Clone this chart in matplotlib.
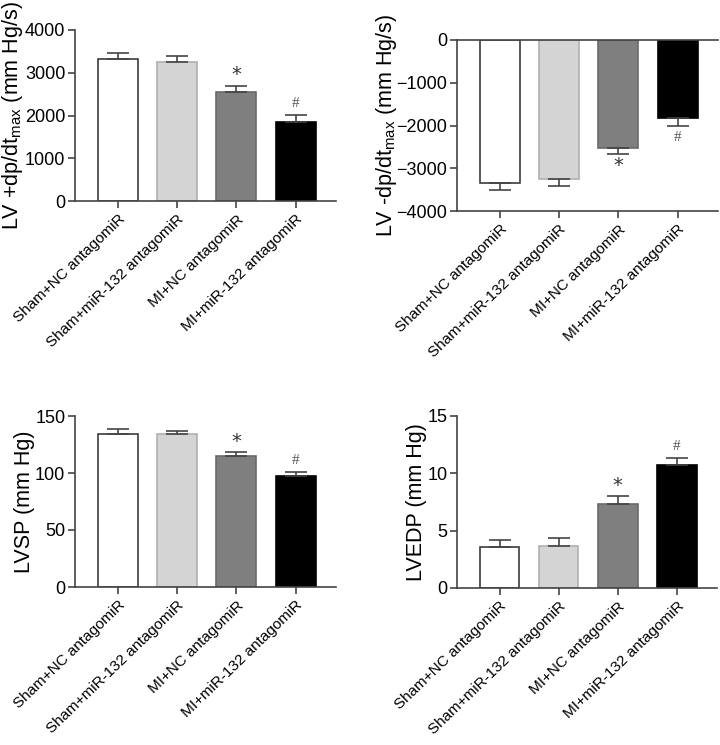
import matplotlib.pyplot as plt
import numpy as np

plt.rcParams['font.family'] = ['Liberation Sans', 'DejaVu Sans']

groups = ["Sham+NC antagomiR", "Sham+miR-132 antagomiR",
          "MI+NC antagomiR", "MI+miR-132 antagomiR"]

dpdt_pos = [3320, 3260, 2540, 1840]
dpdt_pos_err = [150, 135, 155, 170]
dpdt_neg = [-3350, -3250, -2530, -1830]
dpdt_neg_err = [160, 160, 135, 180]
lvsp = [134.2, 134.3, 115.3, 97.0]
lvsp_err = [4.2, 2.6, 2.7, 4.0]
lvedp = [3.58, 3.67, 7.34, 10.75]
lvedp_err = [0.62, 0.70, 0.67, 0.58]

fills = ["white", "#d4d4d4", "#7f7f7f", "black"]
edges = ["#3c3c3c", "#b0b0b0", "#6a6a6a", "black"]
line_col = "#444444"

fig = plt.figure(figsize=(7.2, 7.45), dpi=100)
W, H = 720, 745


def make_ax(l, r, t, b):
    return fig.add_axes([l / W, 1 - b / H, (r - l) / W, (b - t) / H])


def panel(ax, vals, errs, ylim, yticks, ylabel, label_x, marks, negative=False):
    x = np.arange(len(vals))
    e = np.array(errs)
    z = np.zeros_like(e)
    yerr = [e, z] if negative else [z, e]
    ax.bar(x, vals, width=0.67, color=fills, edgecolor=edges, linewidth=1.2,
           yerr=yerr, error_kw=dict(ecolor=line_col, elinewidth=1.2,
                                    capsize=8, capthick=1.2), zorder=2)
    ax.set_xlim(-0.72, 3.68)
    ax.set_ylim(*ylim)
    ax.set_yticks(yticks)
    ax.set_xticks(x)
    ax.set_xticklabels(groups, rotation=44, ha="right", rotation_mode="anchor",
                       fontsize=11)
    ax.tick_params(axis="y", labelsize=13, length=5, width=1.2, color=line_col,
                   pad=2)
    ax.tick_params(axis="x", length=5, width=1.2, color=line_col, pad=3)
    ax.spines["right"].set_visible(False)
    ax.spines["top"].set_visible(negative)
    for s in ["left", "bottom", "top"]:
        ax.spines[s].set_color(line_col)
        ax.spines[s].set_linewidth(1.2)
    ax.set_ylabel(ylabel, fontsize=15.5)
    ax.yaxis.set_label_coords(label_x, 0.5)
    for i, sym in marks:
        end = vals[i] - errs[i] if negative else vals[i] + errs[i]
        off = -8 if negative else 8
        if sym == "*":
            ax.annotate("*", xy=(i, end), xytext=(0, off), textcoords="offset points",
                        ha="center", va="center", fontsize=14, color="#333333",
                        family="DejaVu Sans")
        else:
            ax.annotate("#", xy=(i, end), xytext=(0, off), textcoords="offset points",
                        ha="center", va="center", fontsize=11, color="#555555",
                        family="Liberation Serif")


ax1 = make_ax(75, 336, 30, 201)
panel(ax1, dpdt_pos, dpdt_pos_err, (0, 4000), [0, 1000, 2000, 3000, 4000],
      r"LV +dp/dt$_{\mathregular{max}}$ (mm Hg/s)", -0.192, [(2, "*"), (3, "#")])

ax2 = make_ax(457, 718, 40, 211)
panel(ax2, dpdt_neg, dpdt_neg_err, (-4000, 0), [-4000, -3000, -2000, -1000, 0],
      r"LV -dp/dt$_{\mathregular{max}}$ (mm Hg/s)", -0.222, [(2, "*"), (3, "#")],
      negative=True)

ax3 = make_ax(75, 336, 416, 587)
panel(ax3, lvsp, lvsp_err, (0, 150), [0, 50, 100, 150],
      "LVSP (mm Hg)", -0.153, [(2, "*"), (3, "#")])

ax4 = make_ax(457, 717, 416, 588)
panel(ax4, lvedp, lvedp_err, (0, 15), [0, 5, 10, 15],
      "LVEDP (mm Hg)", -0.115, [(2, "*"), (3, "#")])

fig.savefig("out.png", dpi=100)
